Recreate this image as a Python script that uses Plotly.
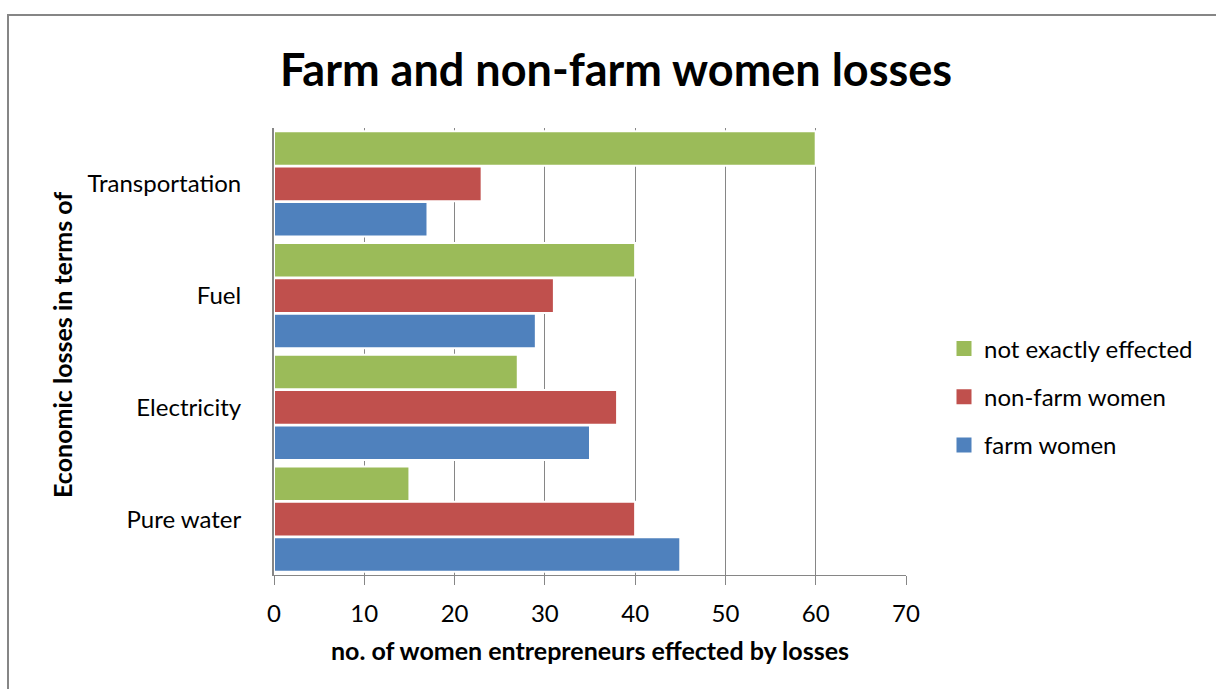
import plotly.graph_objects as go

categories = ["Pure water", "Electricity", "Fuel", "Transportation"]
farm_women = [45, 35, 29, 17]
non_farm_women = [40, 38, 31, 23]
not_exactly_effected = [15, 27, 40, 60]
x_ticks = [0, 10, 20, 30, 40, 50, 60, 70]

FONT = "Lato"
GRID = "#868686"

series = [
    ("farm women", farm_women, "#4F81BD", 3),
    ("non-farm women", non_farm_women, "#C0504D", 2),
    ("not exactly effected", not_exactly_effected, "#9BBB59", 1),
]

fig = go.Figure()
for name, vals, color, rank in series:
    fig.add_trace(go.Bar(
        y=categories, x=vals, name=name, orientation="h",
        marker=dict(color=color, line=dict(color="white", width=2)),
        legendgroup=name, showlegend=False,
    ))
    # square swatch for the legend entry
    fig.add_trace(go.Scatter(
        x=[None], y=[None], mode="markers", name=name,
        marker=dict(symbol="square", size=15, color=color, line=dict(width=0)),
        legendgroup=name, legendrank=rank, showlegend=True, hoverinfo="skip",
    ))

L, R, T, B = 274, 906, 128, 575
W, H = 1216, 689
pw, ph = R - L, B - T

fig.update_layout(
    width=W, height=H,
    margin=dict(l=L, r=W - R, t=T, b=H - B, autoexpand=False),
    paper_bgcolor="white", plot_bgcolor="white",
    barmode="group", bargap=0.05, bargroupgap=0.02,
    font=dict(family=FONT, color="#000000", size=24),
    title=dict(text="<b>Farm and non-farm women losses</b>",
               x=616 / W, xanchor="center", xref="container",
               y=1 - 70 / H, yanchor="middle", yref="container",
               font=dict(family=FONT, size=45, color="#000000")),
    legend=dict(x=(944 - L) / pw, xanchor="left",
                y=(B - 397) / ph, yanchor="middle",
                traceorder="grouped", tracegroupgap=14,
                font=dict(family=FONT, size=24, color="#000000"),
                itemwidth=30, bgcolor="rgba(0,0,0,0)"),
    xaxis=dict(range=[0, 70], tickvals=x_ticks, showgrid=True,
               gridcolor=GRID, gridwidth=1.4, showline=True, linecolor=GRID,
               linewidth=1.4, ticks="outside", ticklen=9, tickcolor=GRID,
               tickwidth=1.4, ticklabelstandoff=8, zeroline=False,
               fixedrange=True, tickfont=dict(family=FONT, size=24)),
    yaxis=dict(showgrid=False, showline=True, linecolor=GRID, linewidth=2,
               ticks="", ticklabelstandoff=26, fixedrange=True,
               categoryorder="array", categoryarray=categories,
               tickfont=dict(family=FONT, size=24)),
    showlegend=True,
    annotations=[
        dict(text="<b>no. of women entrepreneurs effected by losses</b>",
             xref="paper", yref="paper", x=(590 - L) / pw, y=(B - 650) / ph,
             xanchor="center", yanchor="middle", showarrow=False,
             font=dict(family=FONT, size=25, color="#000000")),
        dict(text="<b>Economic losses in terms of</b>",
             xref="paper", yref="paper", x=(62 - L) / pw, y=(B - 345) / ph,
             xanchor="center", yanchor="middle", textangle=-90, showarrow=False,
             font=dict(family=FONT, size=25, color="#000000")),
    ],
    shapes=[
        dict(type="rect", xref="paper", yref="paper",
             x0=(8 - L) / pw, x1=(W + 20 - L) / pw,
             y0=(B - (H + 20)) / ph, y1=(B - 15) / ph,
             line=dict(color=GRID, width=2), fillcolor="rgba(0,0,0,0)",
             layer="below"),
    ],
)

fig.write_html("out.html")
